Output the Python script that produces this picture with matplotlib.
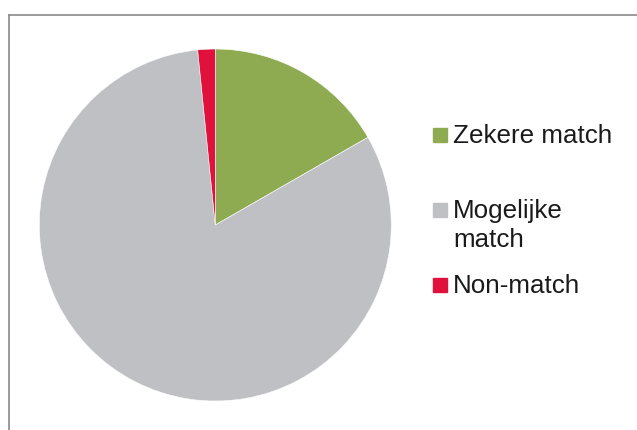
import matplotlib.pyplot as plt
from matplotlib.lines import Line2D
from matplotlib.patches import Rectangle

# data
labels = ['Zekere match', 'Mogelijke\nmatch', 'Non-match']
shares = [16.7, 81.7, 1.6]
colors = ['#8fab52', '#bfc0c4', '#e0123c']

W, H = 637, 430
fig = plt.figure(figsize=(W/100, H/100), dpi=100)
fig.patch.set_facecolor('white')

# pie
ax = fig.add_axes([0.0617, 0.0674, 0.5526, 0.8186])
ax.pie(shares, colors=colors, startangle=90, counterclock=False,
       wedgeprops=dict(edgecolor='white', linewidth=0.4))
ax.set_xlim(-1, 1)
ax.set_ylim(-1, 1)
ax.set_aspect('equal')
ax.axis('off')

# chart frame (only top and left visible in the scan)
fig.add_artist(Line2D([9/W, 1], [1-15/H, 1-15/H], color='#8a8a8a', lw=1.2))
fig.add_artist(Line2D([9/W, 9/W], [0, 1-15/H], color='#8a8a8a', lw=1.2))

# legend (pixel baselines of the first line of each entry)
baselines = [143, 218, 293]
for lab, c, b in zip(labels, colors, baselines):
    fig.add_artist(Rectangle((433/W, 1-(b-1)/H), 14/W, 14/H,
                             color=c, transform=fig.transFigure))
    for i, line in enumerate(lab.split('\n')):
        fig.text(453/W, 1-(b+29*i)/H, line, fontsize=18.7, color='#1a1a1a',
                 family='Liberation Sans', va='baseline', ha='left')

fig.savefig('out.png', dpi=100)
